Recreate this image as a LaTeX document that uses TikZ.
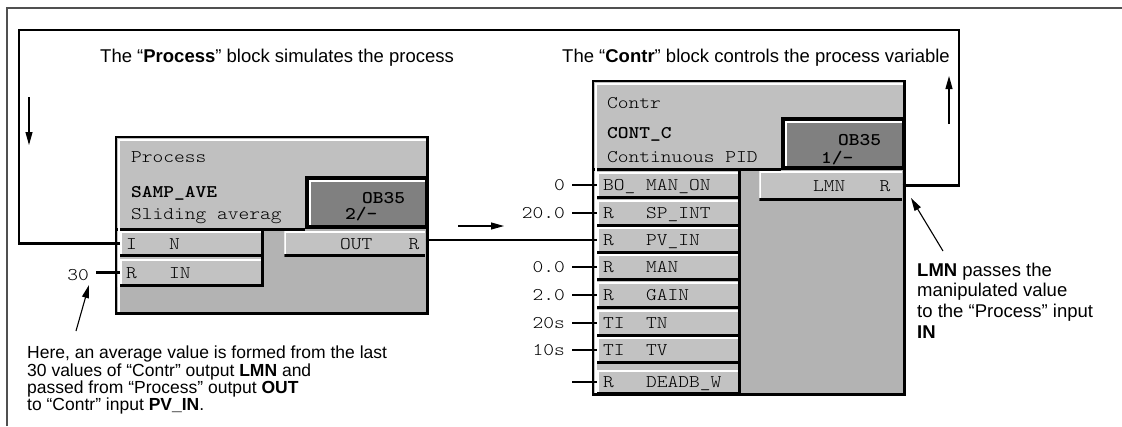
\documentclass[tikz,border=0pt]{standalone}
\usepackage{fontspec}
\setmainfont{Liberation Sans}
\newfontfamily\pinfont{lmmonolt10-regular.otf}[BoldFont=lmmonolt10-bold.otf, FakeStretch=1.15]
\usetikzlibrary{arrows.meta, positioning, calc}

\definecolor{headgray}{HTML}{C0C0C0}
\definecolor{bodygray}{HTML}{B3B3B3}
\definecolor{pingray}{HTML}{C2C2C2}
\definecolor{obgray}{HTML}{808080}
\definecolor{framegray}{HTML}{505050}

% one character cell of the pin font
\newcommand\pinsp{\hphantom{0}}

\tikzset{
  wire/.style={line width=2.2pt},
  pointer/.style={line width=1.1pt, -{Triangle[length=13pt, width=7pt]}},
  mono/.style={font=\pinfont\fontsize{17.8}{20}\selectfont, inner sep=0pt},
  monobold/.style={font=\pinfont\bfseries\fontsize{17.8}{20}\selectfont, inner sep=0pt},
  pinbox/.style={mono, rectangle, fill=pingray, inner xsep=6pt, inner ysep=0pt,
    text width=129pt, minimum height=25pt, text height=11pt, text depth=0pt,
    path picture={
      \draw[white, line width=3pt] (path picture bounding box.south west) -- (path picture bounding box.north west) -- (path picture bounding box.north east);
      \draw[black, line width=5pt] (path picture bounding box.south west) -- (path picture bounding box.south east);
    }},
  inpin/.style={pinbox, align=left, anchor=west},
  outpin/.style={pinbox, align=right, anchor=east},
  remark/.style={align=left, inner sep=0pt, anchor=north west},
}

\begin{document}
\begin{tikzpicture}[x=1pt, y=-1pt]
  \useasboundingbox (0,0) rectangle (1122,426);
  \draw[framegray, line width=1.5pt] (7,426) -- (7,8) -- (1122,8);

  % Process block
  \fill[bodygray] (116,137) rectangle (428,314);
  \fill[headgray] (116,137) rectangle (428,229);
  \fill[headgray] (116,229) rectangle (262,287);
  \fill (305,176) rectangle (428,229);
  \fill[white] (309,180) rectangle (425,225);
  \fill[obgray] (311,182) rectangle (425,225);
  \draw[line width=3pt] (116,229) -- (305,229) (262,229) -- (262,287);
  \draw[white, line width=2pt] (119,312) -- (119,140) -- (426,140);

  \node[inpin] (pinN) at (120,243.5) {I\pinsp\pinsp\pinsp N};
  \node[inpin, minimum height=27pt] (pinIN) at (120,272.5) {R\pinsp\pinsp\pinsp IN};
  \node[outpin] (out) at (425.5,244) {OUT\pinsp\pinsp\pinsp\hspace{4pt}R};

  \draw[line width=1.5pt] (116,137) rectangle (428,314);
  \draw[line width=2.5pt] (427,138) -- (427,313) -- (117,313);

  \node[mono, anchor=base west] (pname) at (131,162.5) {Process};
  \node[monobold, anchor=base west] (ptype) at (131,197.5) {SAMP\_AVE};
  \node[mono, anchor=base west] (pdesc) at (131,219.5) {Sliding averag};
  \node[monobold, anchor=base west] (pob) at (362,203.5) {OB35};
  \node[monobold, anchor=base west] (pnum) at (345,219.5) {2/-};

  % Contr block
  \fill[bodygray] (593,81) rectangle (905,395);
  \fill[headgray] (593,81) rectangle (905,169);
  \fill[headgray] (593,169) rectangle (739,395);
  \fill (781,117) rectangle (905,170);
  \fill[white] (785,121) rectangle (902,166);
  \fill[obgray] (787,123) rectangle (902,166);
  \draw[line width=3pt] (593,169.5) -- (781,169.5) (739,169.5) -- (739,395);
  \draw[white, line width=2pt] (596,393) -- (596,84) -- (903,84);

  \node[inpin, minimum height=26pt] (boman) at (597,185) {BO\_\pinsp MAN\_ON};
  \node[inpin, minimum height=26pt] (spint) at (597,213) {R\pinsp\pinsp\pinsp SP\_INT};
  \node[inpin, minimum height=26pt] (pvin) at (597,240) {R\pinsp\pinsp\pinsp PV\_IN};
  \node[inpin, minimum height=26pt] (man) at (597,267) {R\pinsp\pinsp\pinsp MAN};
  \node[inpin, minimum height=26pt] (gain) at (597,295) {R\pinsp\pinsp\pinsp GAIN};
  \node[inpin, minimum height=26pt] (tn) at (597,323) {TI\pinsp\pinsp TN};
  \node[inpin, minimum height=26pt] (tv) at (597,350) {TI\pinsp\pinsp TV};
  \node[inpin, minimum height=24pt] (deadb) at (597,382) {R\pinsp\pinsp\pinsp DEADB\_W};
  \node[outpin, minimum height=29pt, inner xsep=12pt, text width=119pt] (lmn) at (902.5,185.5) {LMN\pinsp\pinsp\pinsp\hspace{2pt}R};

  \draw[line width=1.5pt] (593,81) rectangle (905,395);
  \draw[line width=2.5pt] (904,82) -- (904,394) -- (594,394);

  \node[mono, anchor=base west] (cname) at (607,108.5) {Contr};
  \node[monobold, anchor=base west] (ctype) at (607,138.5) {CONT\_C};
  \node[mono, anchor=base west] (cdesc) at (607,162.5) {Continuous PID};
  \node[monobold, anchor=base west] (cob) at (838,145.5) {OB35};
  \node[monobold, anchor=base west] (cnum) at (821,163.5) {1/-};

  % parameters
  \node[mono, anchor=east] (c30) at ($(pinIN.west)+(-31,3)$) {30};
  \draw[wire] ([xshift=7pt]c30.east |- pinIN.west) -- (pinIN.west);
  \foreach \pin/\val in {boman/0, spint/20.0, man/0.0, gain/2.0, tn/20s, tv/10s, deadb/{}}
  {
    \node[mono, anchor=east] (c-\pin) at ($(\pin.west)+(-32,0)$) {\val};
    \draw[wire] ([xshift=7pt]c-\pin.east) -- (\pin.west);
  }

  % signal flow
  \coordinate (nw) at (19,30);
  \coordinate (ne) at (959,30);
  \draw[wire] (lmn.east) -| (ne) -- (nw) |- (pinN.west);
  \draw[wire] (pvin.west -| out.east) -- (pvin.west);

  \coordinate (downA) at (29,97);
  \coordinate (downB) at (29,145);
  \coordinate (upA) at (949,124);
  \coordinate (upB) at (949,76);
  \coordinate (flowA) at (458,226);
  \coordinate (flowB) at (504,226);
  \draw[pointer] (downA) -- (downB);
  \draw[pointer] (upA) -- (upB);
  \draw[pointer] (flowA) -- (flowB);

  % texts
  \node[anchor=base west, inner sep=0pt, font=\fontsize{18.5}{20}\selectfont] (ptitle) at (100,62)
    {The “\textbf{Process}” block simulates the process};
  \node[anchor=base west, inner sep=0pt, font=\fontsize{18.5}{20}\selectfont] (ctitle) at (562,62)
    {The “\textbf{Contr}” block controls the process variable};

  \node[remark, font=\fontsize{17.5}{17.3}\selectfont] (avgnote) at (27,346)
    {Here, an average value is formed from the last\\
     30 values of “Contr” output \textbf{LMN} and\\
     passed from “Process” output \textbf{OUT}\\
     to “Contr” input \textbf{PV\_IN}.};
  \node[remark, font=\fontsize{18.5}{20.7}\selectfont] (lmnnote) at (917,262.5)
    {\textbf{LMN} passes the\\
     manipulated value\\
     to the “Process” input\\
     \textbf{IN}};

  \coordinate (hint30) at (89,285);
  \coordinate (tail30) at (76,331);
  \coordinate (hintlmn) at (911,198);
  \coordinate (taillmn) at (943,251);
  \draw[pointer] (tail30) -- (hint30);
  \draw[pointer] (taillmn) -- (hintlmn);
\end{tikzpicture}
\end{document}
